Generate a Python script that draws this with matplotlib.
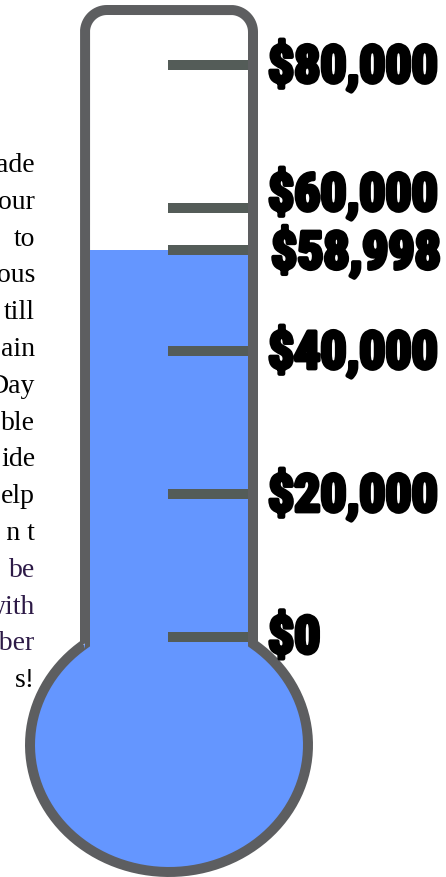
import numpy as np
import matplotlib
matplotlib.use('Agg')
import matplotlib.pyplot as plt
from matplotlib.patches import Ellipse, PathPatch
from matplotlib.path import Path
from matplotlib import font_manager
import matplotlib.patheffects as pe

# data
tick_values = [0, 20000, 40000, 60000, 80000]
raised = 58998
fill_level = 54100          # height of the blue column
side_lines = ['ade', 'our', 'to', 'ous', 'till', 'ain', 'Day', 'ble', 'ide',
              'elp', 'a n t', 'be', 'with', 'mber', 's!']
side_colors = ['black'] * 11 + ['#2d1a47'] * 3 + ['black']

blue = '#6496ff'
wall = '#5d5e60'
tick_c = '#545c58'

W, H = 446, 877
fig = plt.figure(figsize=(W / 100, H / 100), dpi=100)

# glass in pixel coordinates
gx = fig.add_axes([0, 0, 1, 1])
gx.set_xlim(0, W)
gx.set_ylim(H, 0)
gx.axis('off')
gx.set_zorder(1)

# money axis: $0 at y=637px, $80,000 at y=65px
per_px = 80000 / (637 - 65)
ax = fig.add_axes([0, 0, 1, 1])
ax.set_xlim(0, W)
ax.set_ylim(-(H - 637) * per_px, 80000 + 65 * per_px)
ax.axis('off')
ax.set_zorder(2)
ax.patch.set_alpha(0)

lw = 10 * 72 / 100  # 10 px walls

# bulb
cx, cy, rx, ry = 169, 745, 139, 127
gx.add_patch(Ellipse((cx, cy), 2 * rx, 2 * ry, facecolor=blue, edgecolor='none'))

# outline: tube + bulb
xl, xr, yt, r = 85, 253, 10, 22
dx = (xr - xl) / 2
t0 = np.degrees(np.arccos(dx / rx))
yj = cy - ry * np.sin(np.radians(t0))
pts = [(xl, yj), (xl, yt + r)]
a = np.linspace(np.pi, 1.5 * np.pi, 20)
pts += [(xl + r + r * np.cos(t), yt + r + r * np.sin(t)) for t in a]
a = np.linspace(1.5 * np.pi, 2 * np.pi, 20)
pts += [(xr - r + r * np.cos(t), yt + r + r * np.sin(t)) for t in a]
pts += [(xr, yj)]
a = np.linspace(np.radians(-t0), np.radians(180 + t0), 200)
pts += [(cx + rx * np.cos(t), cy + ry * np.sin(t)) for t in a]
pts += [(xl, yj)]
gx.add_patch(PathPatch(Path(pts), facecolor='none', edgecolor=wall, lw=lw,
                       joinstyle='miter', zorder=3))

# column of money raised
ax.bar(169, fill_level + 0.05 * 80000, bottom=-0.05 * 80000, width=158,
       color=blue, zorder=1)

# ticks
marks = tick_values + [fill_level]
ax.hlines(marks, 168, 248, color=tick_c, lw=lw, capstyle='butt', zorder=2)

# labels - look for the narrowest heavy face that is installed
candidates = [('Roboto Condensed', 'normal', 'black', 'Condensed'),
              ('Roboto Condensed', 'normal', 'bold', 'Condensed'),
              ('Noto Sans', 'extra-condensed', 'black', 'ExtraCondensed'),
              ('Noto Sans', 'condensed', 'black', 'Condensed'),
              ('Liberation Sans Narrow', 'condensed', 'bold', 'Narrow'),
              ('DejaVu Sans', 'condensed', 'bold', 'Condensed')]
font = dict(family='DejaVu Sans', weight='bold', size=27)
for fam, st, wt, key in candidates:
    fp = font_manager.FontProperties(family=fam, weight=wt, stretch=st)
    try:
        path = font_manager.findfont(fp, fallback_to_default=False)
    except ValueError:
        continue
    if key in path:
        font = dict(family=fam, weight=wt, stretch=st, size=36)
        break

# fit the font so '$80,000' is about as wide as in the picture
renderer = fig.canvas.get_renderer()
probe = fig.text(0, 0, '$80,000', **font)
w = probe.get_window_extent(renderer).width
probe.remove()
font['size'] = font['size'] * 170 / w

stroke = [pe.withStroke(linewidth=3, foreground='black')]
for v in tick_values:
    nudge = 13 if v == 60000 else -2
    ax.annotate(f'${v:,}', (268, v), xytext=(0, nudge), textcoords='offset pixels',
                va='center', ha='left', path_effects=stroke, color='black', **font)
ax.annotate(f'${raised:,}', (271, fill_level), xytext=(0, -3),
            textcoords='offset pixels', va='center', ha='left',
            path_effects=stroke, color='black', **font)

# cut-off paragraph on the left
for i, (s, c) in enumerate(zip(side_lines, side_colors)):
    gx.text(35, 172 + i * 36.8, s, ha='right', va='baseline', color=c,
            family='Liberation Serif', size=20)

fig.savefig('out.png', dpi=100)
